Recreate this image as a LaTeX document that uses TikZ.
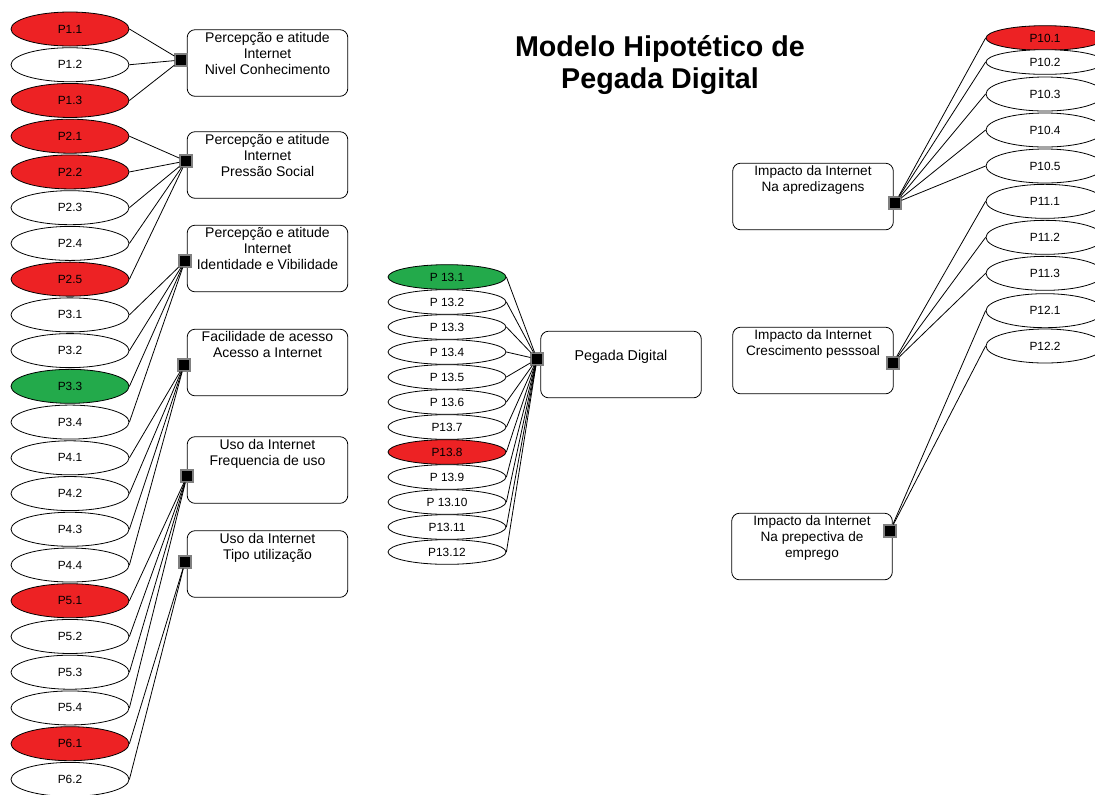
\documentclass[tikz,border=0pt]{standalone}
\usepackage{fontspec}
\setmainfont{Liberation Sans}
\usetikzlibrary{shapes.geometric,positioning}
\definecolor{itemred}{RGB}{237,34,36}
\definecolor{itemgreen}{RGB}{35,170,75}
\newcommand{\toptext}[1]{\parbox[c][46pt][t]{118pt}{\centering #1}}
\tikzset{%
  % Specifications for style of nodes:
        item/.style = {ellipse, draw=black, line width=0.6pt, fill=white,
                       minimum width=88.5pt, minimum height=25.5pt,
                       inner sep=0pt, font=\fontsize{8.9}{10}\selectfont},
        flat/.style = {item, minimum height=18.5pt},
         hot/.style = {fill=itemred},
        cool/.style = {fill=itemgreen},
   construct/.style = {rectangle, rounded corners=6pt, draw=black,
                       line width=0.6pt, minimum width=120.5pt,
                       minimum height=50pt, inner sep=0pt,
                       font=\fontsize{10.5}{12}\selectfont},
     outcome/.style = {construct, font=\fontsize{10.2}{12}\selectfont},
         hub/.style = {rectangle, fill=black, draw=gray, line width=0.9pt,
                       minimum size=9pt, inner sep=0pt},
        link/.style = {line width=0.6pt}
}
\begin{document}
\begin{tikzpicture}[x=0.75pt, y=-0.75pt, node distance=26.8pt, on grid]
  \useasboundingbox (0,0) rectangle (1095,794);

  \node (title) [font=\fontsize{21.5}{24}\selectfont\bfseries, align=center]
        at (660,65) {Modelo Hipotético de\\Pegada Digital};

  % constructs on the left
  \node (b1) [construct] at (267.5,63)  {\toptext{Percepção e atitude\\Internet\\Nivel Conhecimento}};
  \node (b2) [construct] at (267.5,165) {\toptext{Percepção e atitude\\Internet\\Pressão Social}};
  \node (b3) [construct] at (267.5,258.5) {\toptext{Percepção e atitude\\Internet\\Identidade e Vibilidade}};
  \node (b4) [construct] at (267.5,362.5) {\toptext{Facilidade de acesso\\Acesso a Internet}};
  \node (b5) [construct] at (267.5,470) {\toptext{Uso da Internet\\Frequencia de uso}};
  \node (b6) [construct] at (267.5,564) {\toptext{Uso da Internet\\Tipo utilização}};

  \node (h1) [hub] at (181,60)  {};
  \node (h2) [hub] at (186,161) {};
  \node (h3) [hub] at (185,261) {};
  \node (h4) [hub] at (184,365) {};
  \node (h5) [hub] at (187,476) {};
  \node (h6) [hub] at (185,562) {};

  % items on the left
  \node (p11) [item, hot] at (70,29)      {P1.1};
  \node (p12) [item, below=of p11]        {P1.2};
  \node (p13) [item, hot, below=of p12]   {P1.3};
  \node (p21) [item, hot, below=of p13]   {P2.1};
  \node (p22) [item, hot, below=of p21]   {P2.2};
  \node (p23) [item, below=of p22]        {P2.3};
  \node (p24) [item, below=of p23]        {P2.4};
  \node (p25) [item, hot, below=of p24]   {P2.5};
  \node (p31) [item, below=of p25]        {P3.1};
  \node (p32) [item, below=of p31]        {P3.2};
  \node (p33) [item, cool, below=of p32]  {P3.3};
  \node (p34) [item, below=of p33]        {P3.4};
  \node (p41) [item, below=of p34]        {P4.1};
  \node (p42) [item, below=of p41]        {P4.2};
  \node (p43) [item, below=of p42]        {P4.3};
  \node (p44) [item, below=of p43]        {P4.4};
  \node (p51) [item, hot, below=of p44]   {P5.1};
  \node (p52) [item, below=of p51]        {P5.2};
  \node (p53) [item, below=of p52]        {P5.3};
  \node (p54) [item, below=of p53]        {P5.4};
  \node (p61) [item, hot, below=of p54]   {P6.1};
  \node (p62) [item, below=of p61]        {P6.2};

  \draw[link] (p11.east) -- (h1);
  \draw[link] (p12.east) -- (h1);
  \draw[link] (p13.east) -- (h1);
  \draw[link] (p21.east) -- (h2);
  \draw[link] (p22.east) -- (h2);
  \draw[link] (p23.east) -- (h2);
  \draw[link] (p24.east) -- (h2);
  \draw[link] (p25.east) -- (h2);
  \draw[link] (p31.east) -- (h3);
  \draw[link] (p32.east) -- (h3);
  \draw[link] (p33.east) -- (h3);
  \draw[link] (p34.east) -- (h3);
  \draw[link] (p41.east) -- (h4);
  \draw[link] (p42.east) -- (h4);
  \draw[link] (p43.east) -- (h4);
  \draw[link] (p44.east) -- (h4);
  \draw[link] (p51.east) -- (h5);
  \draw[link] (p52.east) -- (h5);
  \draw[link] (p53.east) -- (h5);
  \draw[link] (p54.east) -- (h5);
  \draw[link] (p61.east) -- (h6);
  \draw[link] (p62.east) -- (h6);

  % centre: Pegada Digital
  \node (pd) [construct, font=\fontsize{10.7}{12}\selectfont, text depth=13.4pt]
        at (621,364.5) {Pegada Digital};
  \node (h13) [hub] at (537,359) {};

  \node (q1)  [flat, cool] at (447,277)          {P 13.1};
  \node (q2)  [flat, below=18.75pt of q1]        {P 13.2};
  \node (q3)  [flat, below=18.75pt of q2]        {P 13.3};
  \node (q4)  [flat, below=18.75pt of q3]        {P 13.4};
  \node (q5)  [flat, below=18.75pt of q4]        {P 13.5};
  \node (q6)  [flat, below=18.75pt of q5]        {P 13.6};
  \node (q7)  [flat, below=18.75pt of q6]        {P13.7};
  \node (q8)  [flat, hot, below=18.75pt of q7]   {P13.8};
  \node (q9)  [flat, below=18.75pt of q8]        {P 13.9};
  \node (q10) [flat, below=18.75pt of q9]        {P 13.10};
  \node (q11) [flat, below=18.75pt of q10]       {P13.11};
  \node (q12) [flat, below=18.75pt of q11]       {P13.12};

  \draw[link] (q1.east)  -- (h13);
  \draw[link] (q2.east)  -- (h13);
  \draw[link] (q3.east)  -- (h13);
  \draw[link] (q4.east)  -- (h13);
  \draw[link] (q5.east)  -- (h13);
  \draw[link] (q6.east)  -- (h13);
  \draw[link] (q7.east)  -- (h13);
  \draw[link] (q8.east)  -- (h13);
  \draw[link] (q9.east)  -- (h13);
  \draw[link] (q10.east) -- (h13);
  \draw[link] (q11.east) -- (h13);
  \draw[link] (q12.east) -- (h13);

  % impacts on the right
  \node (r1) [outcome] at (813,196.5) {\toptext{Impacto da Internet\\Na apredizagens}};
  \node (r2) [outcome] at (813,360.5) {\toptext{Impacto da Internet\\Crescimento pesssoal}};
  \node (r3) [outcome] at (812,546.5) {\toptext{Impacto da Internet\\Na prepectiva de\\emprego}};

  \node (k1) [hub] at (895,203) {};
  \node (k2) [hub] at (893,363) {};
  \node (k3) [hub] at (890,531) {};

  \node (s101) [flat, hot] at (1045,38)        {P10.1};
  \node (s102) [flat, below=18pt of s101]      {P10.2};
  \node (s103) [item, below=24pt of s102]      {P10.3};
  \node (s104) [item, below=27pt of s103]      {P10.4};
  \node (s105) [item, below=27pt of s104]      {P10.5};
  \node (s111) [item, below=26.5pt of s105]    {P11.1};
  \node (s112) [item, below=27pt of s111]      {P11.2};
  \node (s113) [item, below=27pt of s112]      {P11.3};
  \node (s121) [item, below=28pt of s113]      {P12.1};
  \node (s122) [item, below=26.5pt of s121]    {P12.2};

  \draw[link] (k1) -- (s101.west);
  \draw[link] (k1) -- (s102.west);
  \draw[link] (k1) -- (s103.west);
  \draw[link] (k1) -- (s104.west);
  \draw[link] (k1) -- (s105.west);
  \draw[link] (k2) -- (s111.west);
  \draw[link] (k2) -- (s112.west);
  \draw[link] (k2) -- (s113.west);
  \draw[link] (k3) -- (s121.west);
  \draw[link] (k3) -- (s122.west);
\end{tikzpicture}
\end{document}
